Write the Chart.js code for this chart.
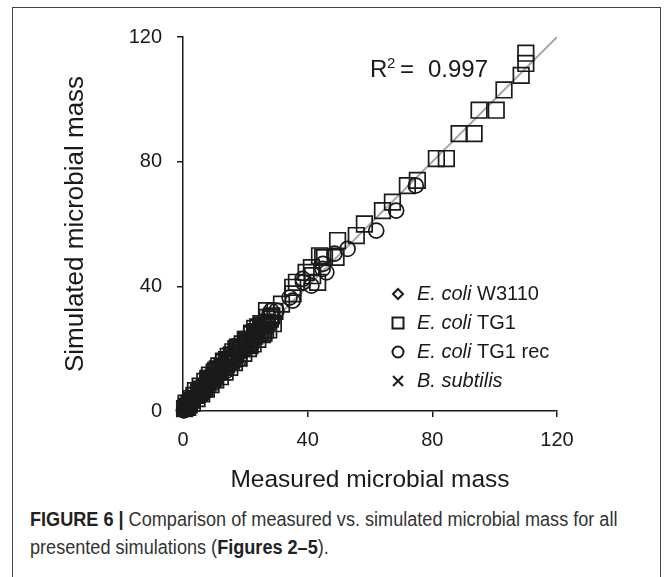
<!DOCTYPE html>
<html>
<head>
<meta charset="utf-8">
<script src="https://cdn.jsdelivr.net/npm/chart.js@4.4.0/dist/chart.umd.min.js"></script>
<style>
  body { margin: 0; background: #fff; }
  #frame {
    position: absolute; left: 12px; top: 7px; width: 647px; height: 620px;
    border: 1.5px solid #444; border-bottom: none;
  }
  #chart { position: absolute; left: 0; top: 0; }
  #caption {
    position: absolute; left: 30px; top: 505px; white-space: nowrap;
    font-family: "Liberation Sans", Arial, sans-serif;
    font-size: 20px; line-height: 28px; color: #333;
    transform: scaleX(0.905); transform-origin: 0 0;
  }
  #caption b { color: #222; }
</style>
</head>
<body>
<div id="frame"></div>
<canvas id="chart" width="672" height="500"></canvas>
<div id="caption"><b>FIGURE 6 |</b> Comparison of measured vs. simulated microbial mass for all<br>presented simulations (<b>Figures 2–5</b>).</div>
<script>
// values
const tickValues = [0, 40, 80, 120];
const r2Text = "0.997";

const w3110Measured = [0.2, 0.5, 0.8, 1.0, 1.3, 1.6, 2.0, 2.4, 2.8, 3.2, 3.6, 4.1, 4.6, 5.2, 5.8, 6.5, 7.2, 8.0, 0.3, 1.1, 1.9, 2.6, 3.4, 4.4];
const w3110Simulated = [0.3, 0.9, 1.2, 1.6, 1.4, 2.1, 2.6, 2.3, 3.4, 3.9, 4.5, 4.2, 5.3, 5.9, 6.8, 6.9, 8.1, 8.6, 0.1, 0.7, 2.4, 3.1, 3.6, 5.0];

const tg1Measured = [110, 110, 108.5, 103, 95, 100.5, 88.6, 93.4, 81.3, 84.5,
  75.2, 72, 67.2, 64, 58.2, 55.6, 49.6, 49.1, 44.8, 43.8, 41.6, 43.2, 39.5, 36.4, 35.3, 35.2, 31.6, 26.8, 45.4, 41.2,
  29, 28, 27.5, 27, 26, 26, 25.5, 25, 24, 24, 23.5, 23, 22.5, 22, 21, 21, 20.5, 20, 19.5, 19,
  18, 18, 17.5, 17, 16.5, 16, 15, 15, 14.5, 14, 13.5, 13, 12, 12, 11.5, 11, 10.5, 10, 9, 9,
  8.5, 8, 7.5, 7, 6, 6, 5, 4.5, 4, 3, 3, 2, 1.5, 1, 0.5,
  29.5, 28.5, 27, 26.5, 25, 24.5, 23, 22, 21.5, 20, 19, 18.5, 17, 16, 15.5, 14, 13, 12.5, 11, 10,
  9.5, 8, 7, 6.5, 5.5, 4, 3.5, 2.5, 2, 1, 28, 25.5, 23, 20.5, 18, 15.5, 13, 10.5, 8, 5.5];
const tg1Simulated = [114.8, 111.5, 107.7, 103, 96.5, 96.5, 89, 89, 81, 81,
  74, 72.3, 67, 64.3, 60, 56.3, 54.7, 49.3, 49.3, 49.8, 43.4, 41.3, 44.5, 41.3, 37.6, 39.7, 34.3, 32.2, 49.3, 46,
  28, 30, 26, 28.5, 27.5, 25, 24.5, 26, 27, 23, 25.5, 24, 21.5, 25, 22, 20, 23, 21.5, 18.5, 20,
  19.5, 17, 20.5, 18, 15.5, 17, 16.5, 14, 17.5, 15, 12.5, 14, 13, 11, 14.5, 12.5, 10, 11, 10, 8.5,
  11.5, 9, 7, 7.5, 7, 5.5, 6, 4, 5, 3.5, 2.5, 2.5, 1.2, 1.5, 0.8,
  32, 30.5, 30, 26, 28, 25, 26.5, 24.5, 21, 23, 21.5, 20.5, 20, 19, 16, 16.5, 16, 14, 13.5, 12.5,
  10.5, 10, 9.5, 7, 6.5, 6.5, 5, 4, 2, 2.5, 29.5, 27.5, 25, 22.5, 20.5, 18, 15.5, 13, 10.5, 8];

const recMeasured = [74.7, 68.4, 62, 52.8, 48.6, 44.8, 46, 38.4, 41.2, 34.2, 44.9, 38.5, 35.2, 30, 28.3,
  27, 25.5, 24, 23, 21.5, 20, 19, 17.5, 16, 15, 13.5, 12, 11, 9.5, 8, 6.5, 5, 3.5, 2, 1,
  0.3, 26, 22, 18, 14, 10, 6, 3,
  24.5, 22.5, 20.5, 18.5, 16.5, 14.5, 12.5, 10.5, 8.5, 7, 4.5, 2.5, 1.5];
const recSimulated = [72.3, 64.3, 57.9, 52, 50.5, 45.6, 44.5, 42.4, 40.2, 36.4, 47.2, 41.3, 35.4, 32.2, 32.2,
  28, 27, 25.5, 23.5, 23, 21, 19.5, 18.5, 17, 15, 14.5, 12.5, 11, 10, 8.5, 7, 5.5, 3.8, 2.2, 0.8,
  0.2, 25, 21, 16.5, 13, 9, 5, 2.5,
  27, 24.5, 22.5, 20.5, 18, 16.5, 14, 12, 10, 8.5, 5.5, 3.5, 1.8];

const subtilisMeasured = [0.1, 0.4, 0.7, 1.0, 1.4, 1.8, 2.3, 2.9, 3.5, 4.2, 5.0, 0.6, 1.2, 2.0, 3.0, 4.0];
const subtilisSimulated = [0.2, 0.6, 1.4, 1.9, 2.3, 2.9, 3.5, 3.8, 4.6, 5.4, 6.2, 0.3, 1.0, 2.8, 4.1, 4.7];

const identityLine = [0, 120];

const legendItems = [
  { style: "rectRot", italic: "E. coli", rest: " W3110" },
  { style: "rect", italic: "E. coli", rest: " TG1" },
  { style: "circle", italic: "E. coli", rest: " TG1 rec" },
  { style: "crossRot", italic: "B. subtilis", rest: "" },
];

const ink = "#1a1a1a";
const fontFamily = "'Liberation Sans', Arial, sans-serif";

function pairs(xs, ys) {
  return xs.map((x, i) => ({ x: x, y: ys[i] }));
}

function drawMarker(ctx, style, x, y) {
  ctx.beginPath();
  if (style === "rectRot") {
    ctx.moveTo(x - 5, y); ctx.lineTo(x, y - 5); ctx.lineTo(x + 5, y); ctx.lineTo(x, y + 5); ctx.closePath();
  } else if (style === "rect") {
    ctx.rect(x - 5.5, y - 5.5, 11, 11);
  } else if (style === "circle") {
    ctx.arc(x, y, 5.5, 0, Math.PI * 2);
  } else {
    ctx.moveTo(x - 5, y - 5); ctx.lineTo(x + 5, y + 5);
    ctx.moveTo(x + 5, y - 5); ctx.lineTo(x - 5, y + 5);
  }
  ctx.stroke();
}

const annotations = {
  id: "annotations",
  afterDraw(chart) {
    const ctx = chart.ctx;
    ctx.save();
    ctx.fillStyle = ink;
    ctx.textBaseline = "alphabetic";

    // R² label
    const ry = 77;
    ctx.font = "24px " + fontFamily;
    ctx.fillText("R", 370, ry);
    ctx.font = "15px " + fontFamily;
    ctx.fillText("2", 387, ry - 9);
    ctx.font = "24px " + fontFamily;
    ctx.fillText("=", 400, ry);
    ctx.fillText(r2Text, 428, ry);

    // legend
    ctx.strokeStyle = ink;
    ctx.lineWidth = 2;
    legendItems.forEach((item, i) => {
      const cy = 294 + i * 29;
      drawMarker(ctx, item.style, 398, cy);
      ctx.textBaseline = "middle";
      ctx.font = "italic 20px " + fontFamily;
      ctx.fillText(item.italic, 417, cy);
      const w = ctx.measureText(item.italic).width;
      ctx.font = "20px " + fontFamily;
      ctx.fillText(item.rest, 417 + w, cy);
    });
    ctx.restore();
  }
};

const pointBase = {
  type: "scatter",
  borderColor: ink,
  backgroundColor: "rgba(0,0,0,0)",
  borderWidth: 1.7,
  clip: false,
  order: 1,
};

new Chart(document.getElementById("chart"), {
  type: "scatter",
  data: {
    datasets: [
      {
        type: "line",
        data: pairs(identityLine, identityLine),
        borderColor: "#a8a8a8",
        borderWidth: 2,
        pointRadius: 0,
        order: 10,
      },
      Object.assign({}, pointBase, { label: "E. coli TG1", data: pairs(tg1Measured, tg1Simulated), pointStyle: "rect", pointRadius: 11 }),
      Object.assign({}, pointBase, { label: "E. coli TG1 rec", data: pairs(recMeasured, recSimulated), pointStyle: "circle", pointRadius: 7.5 }),
      Object.assign({}, pointBase, { label: "E. coli W3110", data: pairs(w3110Measured, w3110Simulated), pointStyle: "rectRot", pointRadius: 7 }),
      Object.assign({}, pointBase, { label: "B. subtilis", data: pairs(subtilisMeasured, subtilisSimulated), pointStyle: "crossRot", pointRadius: 7 }),
    ],
  },
  options: {
    responsive: false,
    animation: false,
    devicePixelRatio: 1,
    layout: { padding: { top: 37, right: 115, bottom: 0, left: 0 } },
    plugins: { legend: { display: false }, tooltip: { enabled: false } },
    scales: {
      x: {
        type: "linear",
        min: 0,
        max: 120,
        afterFit(scale) { scale.height = 89; },
        afterBuildTicks(scale) { scale.ticks = tickValues.map(v => ({ value: v })); },
        grid: { drawOnChartArea: false, drawTicks: true, tickLength: 6, color: ink, lineWidth: 1.5 },
        border: { color: ink, width: 1.5 },
        ticks: { color: ink, padding: 11, font: { family: fontFamily, size: 20 } },
        title: { display: true, text: "Measured microbial mass", color: ink, padding: { top: 0, bottom: 5 }, font: { family: fontFamily, size: 24.5 } },
      },
      y: {
        type: "linear",
        min: 0,
        max: 120,
        afterFit(scale) { scale.width = 183; },
        afterBuildTicks(scale) { scale.ticks = tickValues.map(v => ({ value: v })); },
        grid: { drawOnChartArea: false, drawTicks: true, tickLength: 6, color: ink, lineWidth: 1.5 },
        border: { color: ink, width: 1.5 },
        ticks: { color: ink, padding: 15, font: { family: fontFamily, size: 20 } },
        title: { display: true, text: "Simulated microbial mass", color: ink, padding: { top: 60, bottom: 0 }, font: { family: fontFamily, size: 26 } },
      },
    },
  },
  plugins: [annotations],
});
</script>
</body>
</html>
